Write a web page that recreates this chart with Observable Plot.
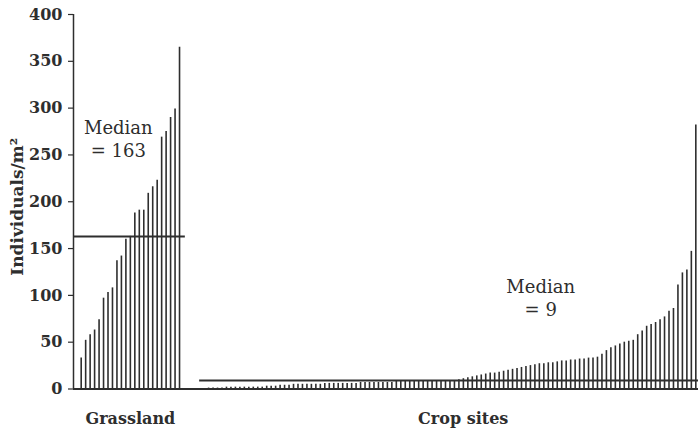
<!DOCTYPE html>
<html>
<head>
<meta charset="utf-8">
<script src="https://cdn.jsdelivr.net/npm/d3@7"></script>
<script src="https://cdn.jsdelivr.net/npm/@observablehq/plot@0.6"></script>
<style>
  html, body { margin: 0; padding: 0; background: #fff; }
</style>
</head>
<body>
<div id="chart"></div>
<script>
// ---- data ----
const groupLabels = ["Grassland", "Crop sites"];
const grassland = [33, 52, 58, 63, 74, 97, 103, 108, 137, 142, 160, 163, 188, 191, 191, 209, 216, 223, 269, 275, 290, 299, 365];
const crop = [
  1, 1, 1, 1, 2, 2, 2, 2, 2, 2,
  2, 2, 2, 3, 3, 3, 4, 4, 4, 5, 5,
  5, 5, 5, 5, 5, 6, 6, 6, 6, 6, 6, 6, 6, 7, 7, 7, 7, 7, 7, 7, 7, 8, 8,
  8, 8, 8, 8, 8, 8, 9, 9,
  9, 9, 9, 9, 10,
  11, 12, 13, 14,
  15, 16, 17, 17, 18, 19,
  20, 21, 22,
  23, 24, 25, 26,
  27, 27, 28, 28, 29,
  30, 30, 31, 31,
  32, 32, 33, 33, 34,
  37, 41, 44, 46, 48, 50, 51, 52, 58, 62, 67, 69, 71, 74, 77, 83, 86, 111, 124, 127, 147, 282
];
const yTicks = [0, 50, 100, 150, 200, 250, 300, 350, 400];
const yLabel = "Individuals/m\u00B2";

// ---- layout constants ----
const cropOffset = 28.5;          // slot where crop sites begin
const xMin = -1.72, xMax = 138.1; // slot domain

const rows = [
  ...grassland.map((v, i) => ({group: groupLabels[0], x: i, value: v})),
  ...crop.map((v, j) => ({group: groupLabels[1], x: cropOffset + j, value: v}))
];

const gMed = d3.median(grassland);
const cMed = d3.median(crop);
const medians = [
  {group: groupLabels[0], value: gMed, x1: xMin, x2: grassland.length + 0.3, tx: 8.3, ty: 268},
  {group: groupLabels[1], value: cMed, x1: cropOffset - 2, x2: xMax, tx: 102.8, ty: 98}
];
const gCenter = [{label: groupLabels[0], x: (grassland.length - 1) / 2}];
const cCenter = [{label: groupLabels[1], x: cropOffset + (crop.length - 1) / 2}];

const ink = "#2e2e2e";
const serif = "'DejaVu Serif', 'Liberation Serif', serif";

const chart = Plot.plot({
  width: 698,
  height: 440,
  marginLeft: 73,
  marginRight: 0,
  marginTop: 14,
  marginBottom: 51.5,
  style: {fontFamily: serif, background: "#fff", color: ink},
  x: {domain: [xMin, xMax], axis: null},
  y: {domain: [0, 400], axis: null},
  marks: [
    Plot.ruleX(rows, {x: "x", y1: 0, y2: "value", stroke: ink, strokeWidth: 1.6}),
    Plot.ruleY(medians, {y: "value", x1: "x1", x2: "x2", stroke: ink, strokeWidth: 2}),
    Plot.ruleY([0], {stroke: ink, strokeWidth: 2}),
    Plot.ruleX([xMin], {stroke: ink, strokeWidth: 1.5}),
    Plot.axisY({ticks: yTicks, tickSize: 5, tickPadding: 6, tickFormat: d => d, label: null,
      fontSize: 16, fontWeight: "bold", stroke: ink, strokeWidth: 1.2, fill: ink}),
    Plot.text(medians, {x: "tx", y: "ty", text: d => "Median\n= " + d.value,
      fontSize: 18, lineHeight: 1.25, fill: ink, textAnchor: "middle"}),
    Plot.text(gCenter, {x: "x", text: "label", frameAnchor: "bottom", dy: 34.5,
      fontSize: 16, fontWeight: "bold", fill: ink}),
    Plot.text(cCenter, {x: "x", text: "label", frameAnchor: "bottom", dx: 11, dy: 34.5,
      fontSize: 16, fontWeight: "bold", fill: ink}),
    Plot.text([yLabel], {text: d => d, frameAnchor: "left", textAnchor: "middle", dx: -56, dy: 5, rotate: -90,
      fontSize: 17, fontWeight: "bold", fill: ink})
  ]
});
document.getElementById("chart").appendChild(chart);
</script>
</body>
</html>
